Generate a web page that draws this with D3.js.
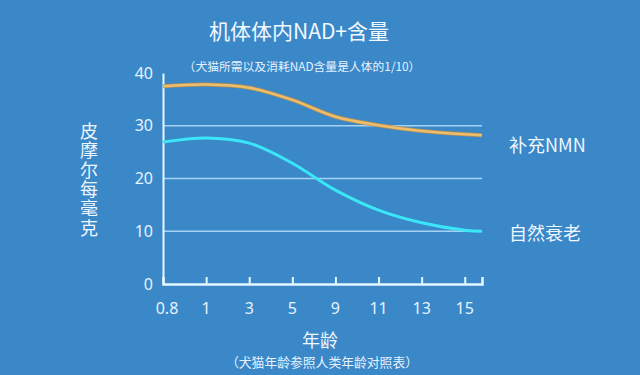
<!DOCTYPE html>
<html>
<head>
<meta charset="utf-8">
<script src="https://cdn.jsdelivr.net/npm/d3@7"></script>
<style>
  html, body { margin: 0; padding: 0; background: #3a88c8; }
  svg { display: block; font-family: "Noto Sans CJK SC", "Noto Sans", sans-serif; }
</style>
</head>
<body>
<div id="chart"></div>
<script>
const ages = ["0.8", "1", "3", "5", "9", "11", "13", "15"]
// the lines run a little past the last tick, to the end of the axis
const endIndex = 7.4
const nmnValues = [37.5, 37.8, 37.2, 34.9, 31.7, 30.1, 29.0, 28.4, 28.2]
const agingValues = [26.9, 27.7, 26.7, 22.9, 17.8, 14.0, 11.6, 10.2, 10.0]
const yTicks = [0, 10, 20, 30, 40]
const gridValues = [10, 20, 30]

const width = 640
const height = 375
const margin = { top: 73, right: 158, bottom: 91, left: 163 }

const svg = d3.select("#chart")
  .append("svg")
  .attr("width", width)
  .attr("height", height)

svg.append("rect")
  .attr("width", width)
  .attr("height", height)
  .attr("fill", "#3a88c8")

const x = d3.scaleLinear()
  .domain([0, endIndex])
  .range([margin.left, width - margin.right])

const y = d3.scaleLinear()
  .domain([0, 40])
  .range([height - margin.bottom, margin.top])

const xs = nmnValues.map((_, i) => i < ages.length ? i : endIndex)

// Title
svg.append("text")
  .attr("x", 299).attr("y", 39)
  .attr("text-anchor", "middle")
  .attr("fill", "#f2f8ff")
  .attr("font-size", 21)
  .text("机体体内NAD+含量")

svg.append("text")
  .attr("x", 302).attr("y", 71)
  .attr("text-anchor", "middle")
  .attr("fill", "#e6f2ff")
  .attr("font-size", 11.8)
  .text("（犬猫所需以及消耗NAD含量是人体的1/10）")

// Gridlines
svg.append("g")
  .selectAll("line")
  .data(gridValues)
  .join("line")
  .attr("x1", x(0))
  .attr("x2", x(endIndex))
  .attr("y1", d => y(d))
  .attr("y2", d => y(d))
  .attr("stroke", "#a6d2f4")
  .attr("stroke-width", 1.5)

// Y axis
const yAxis = svg.append("g")
  .attr("transform", `translate(${x(0)},0)`)
  .call(d3.axisLeft(y).tickValues(yTicks).tickSize(0).tickPadding(10))
yAxis.select(".domain").attr("stroke", "#e4f8ff").attr("stroke-width", 2)
yAxis.selectAll("text")
  .attr("fill", "#e6f2ff")
  .attr("font-size", 16)
  .attr("font-family", "\"Noto Sans\", sans-serif")

// X axis
const xAxis = svg.append("g")
  .attr("transform", `translate(0,${y(0)})`)
  .call(d3.axisBottom(x)
    .tickValues(d3.range(1, ages.length))
    .tickSize(-7)
    .tickFormat(i => ages[i]))
xAxis.select(".domain").attr("stroke", "#e4f8ff").attr("stroke-width", 2.5)
xAxis.selectAll(".tick line").attr("stroke", "#e4f8ff").attr("stroke-width", 2)
xAxis.selectAll("text").remove()

svg.append("g")
  .selectAll("text")
  .data(ages)
  .join("text")
  .attr("x", (d, i) => x(i) + (i === 0 ? 4 : 0))
  .attr("y", y(0) + 30)
  .attr("text-anchor", "middle")
  .attr("fill", "#e6f2ff")
  .attr("font-size", 16)
  .attr("font-family", "\"Noto Sans\", sans-serif")
  .text(d => d)

// Lines
const line = d3.line()
  .x(d => x(d[0]))
  .y(d => y(d[1]))
  .curve(d3.curveCatmullRom.alpha(0.5))

svg.append("path")
  .datum(xs.map((v, i) => [v, nmnValues[i]]))
  .attr("fill", "none")
  .attr("stroke", "#b89050")
  .attr("stroke-width", 4)
  .attr("d", line)

svg.append("path")
  .datum(xs.map((v, i) => [v, nmnValues[i]]))
  .attr("fill", "none")
  .attr("stroke", "#ecbd6c")
  .attr("stroke-width", 2.5)
  .attr("d", line)

svg.append("path")
  .datum(xs.map((v, i) => [v, agingValues[i]]))
  .attr("fill", "none")
  .attr("stroke", "#3ae6f8")
  .attr("stroke-width", 3)
  .attr("d", line)

// Series labels
svg.append("text")
  .attr("x", 509).attr("y", 152)
  .attr("fill", "#eef6ff")
  .attr("font-size", 18)
  .text("补充NMN")

svg.append("text")
  .attr("x", 509).attr("y", 240)
  .attr("fill", "#eef6ff")
  .attr("font-size", 18)
  .text("自然衰老")

// Y title, written top to bottom
svg.append("text")
  .attr("x", 89).attr("y", 122)
  .attr("fill", "#eef6ff")
  .attr("font-size", 18)
  .attr("letter-spacing", 1.4)
  .style("writing-mode", "vertical-rl")
  .style("text-orientation", "upright")
  .text("皮摩尔每毫克")

// X title
svg.append("text")
  .attr("x", 320).attr("y", 347)
  .attr("text-anchor", "middle")
  .attr("fill", "#eef6ff")
  .attr("font-size", 18)
  .text("年龄")

svg.append("text")
  .attr("x", 322).attr("y", 367)
  .attr("text-anchor", "middle")
  .attr("fill", "#e6f2ff")
  .attr("font-size", 12.8)
  .text("（犬猫年龄参照人类年龄对照表）")
</script>
</body>
</html>
